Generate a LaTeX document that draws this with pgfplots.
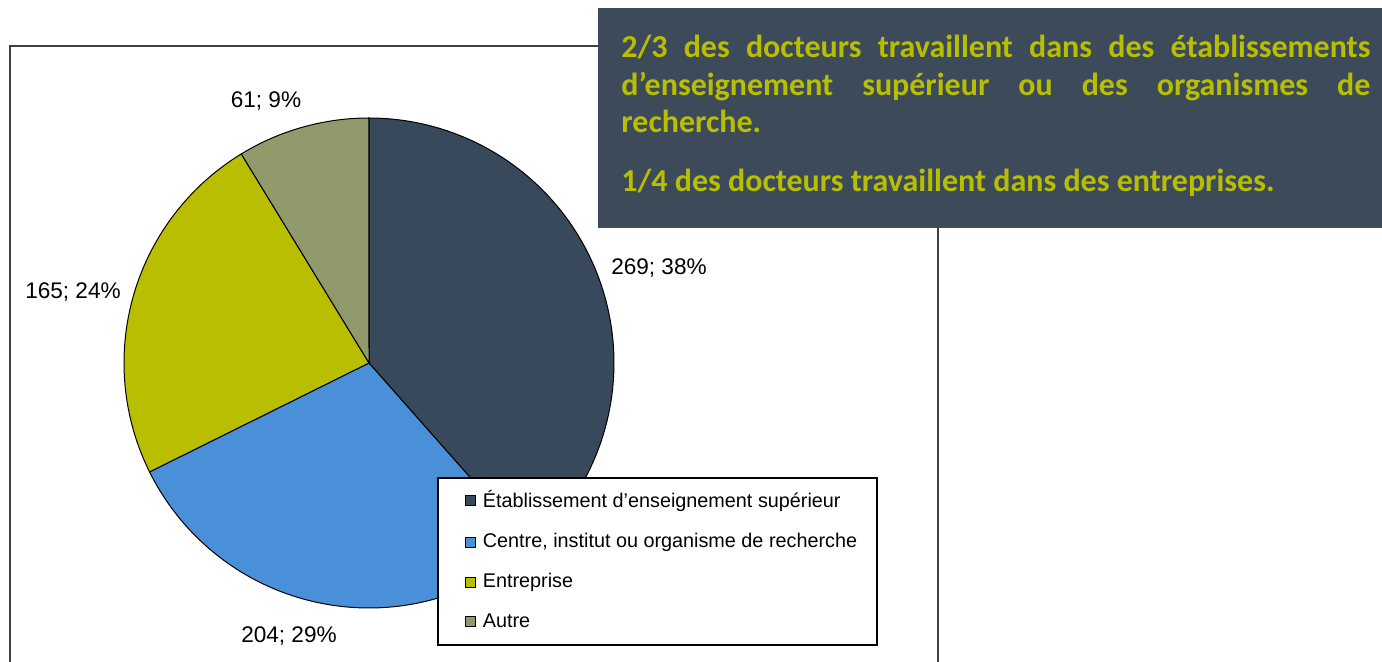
\documentclass[border=0pt]{standalone}
\usepackage{pgfplots}
\pgfplotsset{compat=1.18}
\usepackage{fontspec}
\setmainfont{Liberation Sans}
\newfontfamily\calibri{Carlito}
\definecolor{cEtab}{HTML}{37495A}
\definecolor{cCentre}{HTML}{4A90D9}
\definecolor{cEntr}{HTML}{B9BF00}
\definecolor{cAutre}{HTML}{909A6B}
\definecolor{cBox}{HTML}{3C4A59}
\definecolor{cText}{HTML}{B8BE00}
% data
\def\vA{269}\def\vB{204}\def\vC{165}\def\vD{61}
\pgfmathsetmacro\tot{\vA+\vB+\vC+\vD}
\pgfmathsetmacro\aA{90-\vA/\tot*360}
\pgfmathsetmacro\aB{\aA-\vB/\tot*360}
\pgfmathsetmacro\aC{\aB-\vC/\tot*360}
\pgfmathsetmacro\aD{\aC-\vD/\tot*360}
\begin{document}
\begin{tikzpicture}
\begin{axis}[
  scale only axis, width=691pt, height=331pt,
  xmin=0, xmax=1382, ymin=0, ymax=662,
  hide axis, clip=false,
  legend style={draw=none, fill=none, at={(axis cs:465,175)}, anchor=north west,
    font=\fontsize{9.9}{11}\selectfont, row sep=8.4pt, inner sep=0pt,
    nodes={inner sep=1.5pt}},
  legend cell align=left,
  legend image code/.code={\draw[#1,draw=black,line width=0.5pt] (0pt,-2.5pt) rectangle (5pt,2.5pt);
    \path[draw=none,fill=none] (0pt,0pt) rectangle (7pt,0.1pt);},
]
% frame
\draw[line width=1pt, black!75] (axis cs:10,0) -- (axis cs:10,616) -- (axis cs:938,616) -- (axis cs:938,0);
% pie slices
\addplot[fill=cEtab, draw=black, line width=0.5pt, domain=\aA:90, samples=90]
  ({369+245*cos(x)},{299+245*sin(x)}) -- (axis cs:369,299) -- cycle;
\addlegendentry{Établissement d'enseignement supérieur}
\addplot[fill=cCentre, draw=black, line width=0.5pt, domain=\aB:\aA, samples=80]
  ({369+245*cos(x)},{299+245*sin(x)}) -- (axis cs:369,299) -- cycle;
\addlegendentry{Centre, institut ou organisme de recherche}
\addplot[fill=cEntr, draw=black, line width=0.5pt, domain=\aC:\aB, samples=70]
  ({369+245*cos(x)},{299+245*sin(x)}) -- (axis cs:369,299) -- cycle;
\addlegendentry{Entreprise}
\addplot[fill=cAutre, draw=black, line width=0.5pt, domain=\aD:\aC, samples=40]
  ({369+245*cos(x)},{299+245*sin(x)}) -- (axis cs:369,299) -- cycle;
\addlegendentry{Autre}
% legend frame
\draw[line width=0.8pt, black, fill=white] (axis cs:438,17) rectangle (axis cs:877,184);
% data labels
\node[font=\fontsize{11.3}{13}\selectfont] at (axis cs:266,561) {61; 9\%};
\node[font=\fontsize{11.3}{13}\selectfont] at (axis cs:659,394) {269; 38\%};
\node[font=\fontsize{11.3}{13}\selectfont] at (axis cs:73,370) {165; 24\%};
\node[font=\fontsize{11.3}{13}\selectfont] at (axis cs:289,26) {204; 29\%};
% text box
\fill[cBox] (axis cs:598,434) rectangle (axis cs:1382,654);
\node[anchor=north west, inner sep=0pt, text width=374.5pt, align=justify,
  text=cText, font=\calibri\bfseries\fontsize{16}{18.6}\selectfont]
  at (axis cs:621,627) {2/3 des docteurs travaillent dans des établissements\linebreak
  d’enseignement supérieur ou des organismes de\linebreak recherche.\par\vspace{11pt}
  1/4 des docteurs travaillent dans des entreprises.};
\end{axis}
\pgfresetboundingbox
\path (0,0) rectangle (691pt,331pt);
\end{tikzpicture}
\end{document}
